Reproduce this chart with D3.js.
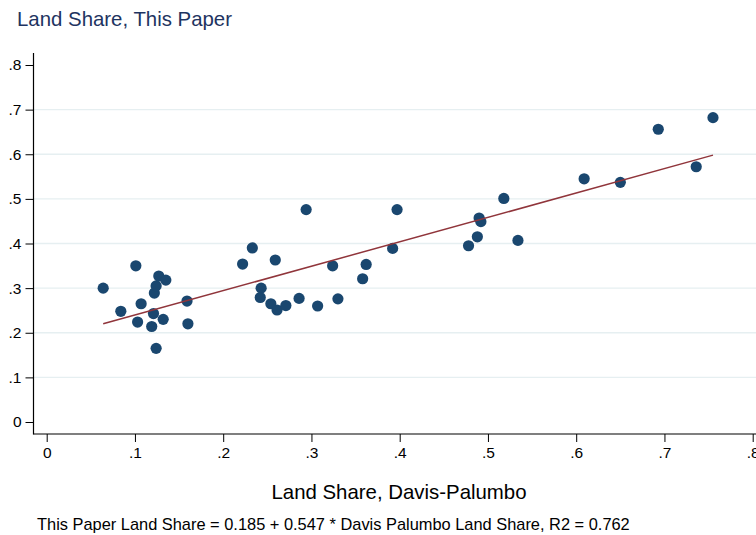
<!DOCTYPE html>
<html><head><meta charset="utf-8">
<script src="https://cdn.jsdelivr.net/npm/d3@7"></script>
<style>body{margin:0;background:#fff;} svg{display:block;font-family:"Liberation Sans",Arial,sans-serif;}</style>
</head><body>
<script>
const davisPalumbo = [0.064,0.084,0.101,0.103,0.107,0.119,0.121,0.122,0.124,0.124,0.127,0.132,0.135,0.159,0.160,
  0.222,0.233,0.243,0.242,0.254,0.259,0.261,0.271,0.286,0.294,0.307,0.324,0.330,0.358,0.362,0.392,0.397,
  0.478,0.488,0.490,0.492,0.518,0.534,0.609,0.650,0.693,0.736,0.755];
const thisPaper = [0.300,0.248,0.350,0.224,0.265,0.214,0.243,0.289,0.305,0.165,0.327,0.230,0.318,0.271,0.220,
  0.354,0.390,0.300,0.279,0.265,0.363,0.251,0.261,0.277,0.476,0.260,0.350,0.276,0.321,0.353,0.389,0.476,
  0.395,0.415,0.457,0.449,0.501,0.407,0.545,0.537,0.656,0.572,0.682];
const fitIntercept = 0.185, fitSlope = 0.547;
const xTicks = [0,0.1,0.2,0.3,0.4,0.5,0.6,0.7,0.8];
const yTicks = [0,0.1,0.2,0.3,0.4,0.5,0.6,0.7,0.8];
const tickLabel = v => v === 0 ? "0" : d3.format(".1f")(v).replace(/^0/, "");

const W = 756, H = 535;
const svg = d3.select("body").append("svg").attr("width", W).attr("height", H);
const x = d3.scaleLinear().domain([0, 0.8]).range([46.7, 752.7]);
const y = d3.scaleLinear().domain([0, 0.8]).range([422, 65]);
const axisX0 = 33.5, axisY0 = 434;

// gridlines
svg.append("g").selectAll("line").data(yTicks.filter(v => v > 0 && v < 0.8)).join("line")
  .attr("x1", axisX0).attr("x2", W).attr("y1", d => y(d)).attr("y2", d => y(d))
  .attr("stroke", "#e6eff1").attr("stroke-width", 1.4);

// y axis
const gy = svg.append("g").attr("transform", `translate(${axisX0},0)`)
  .call(d3.axisLeft(y).tickValues(yTicks).tickFormat(tickLabel).tickSize(8).tickPadding(4));
gy.select(".domain").remove();
gy.selectAll("text").attr("font-size", 15.5).attr("fill", "#000").attr("font-family", "Liberation Sans, Arial, sans-serif");
gy.selectAll("line").attr("stroke", "#000");
svg.append("line").attr("x1", axisX0).attr("x2", axisX0).attr("y1", 53).attr("y2", axisY0 + 0.5).attr("stroke", "#000").attr("stroke-width", 1.2);

// x axis
const gx = svg.append("g").attr("transform", `translate(0,${axisY0})`)
  .call(d3.axisBottom(x).tickValues(xTicks).tickFormat(tickLabel).tickSize(8).tickPadding(5));
gx.select(".domain").remove();
gx.selectAll("text").attr("font-size", 15.5).attr("fill", "#000").attr("font-family", "Liberation Sans, Arial, sans-serif");
gx.selectAll("line").attr("stroke", "#000");
svg.append("line").attr("x1", axisX0).attr("x2", W).attr("y1", axisY0).attr("y2", axisY0).attr("stroke", "#000").attr("stroke-width", 1.2);

// points
svg.append("g").selectAll("circle").data(davisPalumbo.map((d, i) => [d, thisPaper[i]])).join("circle")
  .attr("cx", d => x(d[0])).attr("cy", d => y(d[1])).attr("r", 5.6).attr("fill", "#1a476f");

// fit line
const xMin = d3.min(davisPalumbo), xMax = d3.max(davisPalumbo);
svg.append("line")
  .attr("x1", x(xMin)).attr("y1", y(fitIntercept + fitSlope * xMin))
  .attr("x2", x(xMax)).attr("y2", y(fitIntercept + fitSlope * xMax))
  .attr("stroke", "#90353b").attr("stroke-width", 1.5);

// titles
svg.append("text").attr("x", 17).attr("y", 26).attr("font-size", 20.4).attr("fill", "#1e3461")
  .text("Land Share, This Paper");
svg.append("text").attr("x", 399).attr("y", 499).attr("text-anchor", "middle").attr("font-size", 20.4).attr("fill", "#000")
  .text("Land Share, Davis-Palumbo");
svg.append("text").attr("x", 37).attr("y", 530).attr("font-size", 16.4).attr("fill", "#000")
  .text("This Paper Land Share = 0.185 + 0.547 * Davis Palumbo Land Share, R2 = 0.762");
</script>
</body></html>
